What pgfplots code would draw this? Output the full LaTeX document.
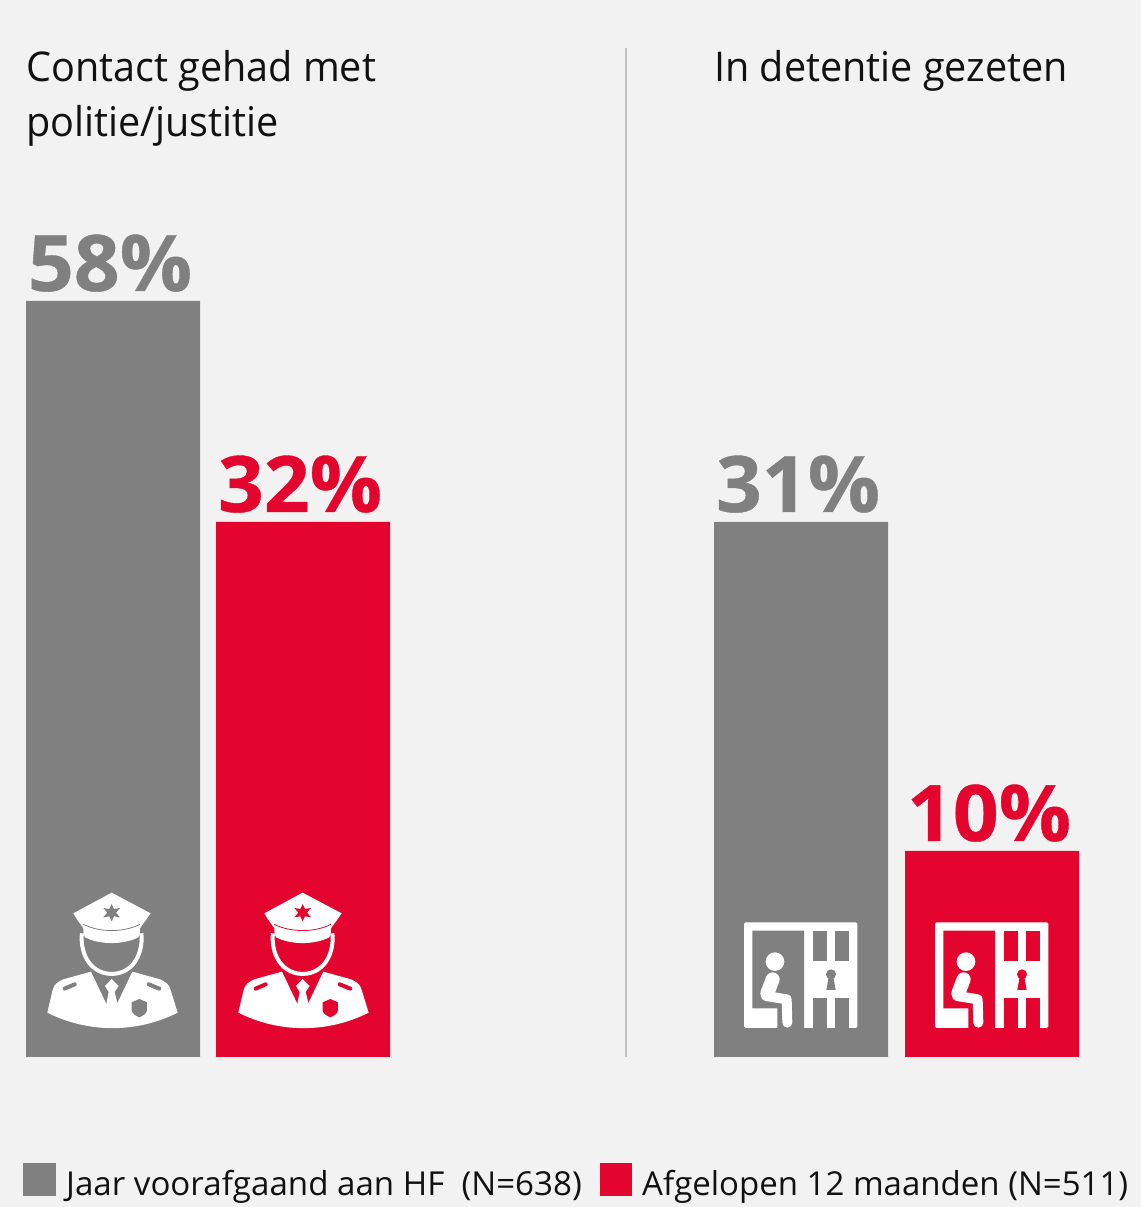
\documentclass[border=0pt]{standalone}
\usepackage{fontspec}
\usepackage{pgfplots}
\usepackage{pgfplotstable}
\pgfplotsset{compat=1.18}
\setmainfont{Open Sans}
\newfontfamily\titelfont[FakeStretch=0.965]{Open Sans}
\newfontfamily\legfont[FakeStretch=1.003]{Open Sans}
\newfontfamily\getalfont[FakeStretch=1.03,FakeBold=0.5]{Open Sans Bold}
\definecolor{bg}{HTML}{F2F2F2}
\definecolor{grijs}{HTML}{808080}
\definecolor{rood}{HTML}{E4052E}
\definecolor{tekst}{HTML}{111111}

% bar heights are pixels as drawn in the chart (it is not to scale), the label is the value
\pgfplotstableread{
x   h   lab
113 756 58\%
801 535 31\%
}\grijsdata
\pgfplotstableread{
x   h   lab
303 535 32\%
992 206 10\%
}\rooddata

\newcommand{\police}[2]{% dx, bar colour
\begin{scope}[shift={(30+#1,880)},x=0.3333pt,y=-0.3333pt]
  \fill[white] (245,38) -- (362,100) .. controls (350,118) and (340,130) .. (330,145)
    .. controls (330,160) and (328,168) .. (325,172) .. controls (280,195) and (210,195) .. (165,172)
    .. controls (162,168) and (160,160) .. (160,145) .. controls (150,130) and (140,118) .. (130,100) -- cycle;
  \draw[#2,line width=0.8pt] (160,133) .. controls (210,158) and (280,158) .. (330,133);
  \draw[white,line width=4pt] (156,160) .. controls (150,205) and (170,280) .. (245,282) .. controls (320,280) and (340,205) .. (334,160);
  \fill[white] (52,398) -- (68,330) .. controls (72,312) and (85,305) .. (100,298) -- (183,275) -- (232,378)
    -- (258,378) -- (307,275) -- (390,298) .. controls (405,305) and (418,312) .. (422,330) -- (443,398)
    .. controls (320,460) and (175,460) .. (52,398) -- cycle;
  \fill[white] (245,297) -- (266,318) -- (254,336) -- (264,376) -- (245,392) -- (228,376) -- (236,336) -- (225,318) -- cycle;
  \draw[#2,line width=4pt,line cap=round] (104,326) -- (134,313);
  \draw[#2,line width=4pt,line cap=round] (356,313) -- (388,326);
  \fill[#2] (328,357) -- (351,367) -- (351,392) .. controls (348,402) and (338,408) .. (328,412)
    .. controls (318,408) and (308,402) .. (305,392) -- (305,367) -- cycle;
  \fill[#2] (245,72) -- (252,87) -- (270,84) -- (258,98) -- (270,112) -- (252,109) -- (245,124)
    -- (238,109) -- (220,112) -- (232,98) -- (220,84) -- (238,87) -- cycle;
\end{scope}}

\newcommand{\cel}[2]{% dx, bar colour
\begin{scope}[shift={(730+#1,910)},x=0.3333pt,y=-0.3333pt]
  \fill[white,rounded corners=1.5pt] (42,37) rectangle (382,354);
  \fill[#2] (67,62) -- (222,62) -- (222,358) -- (142,358) -- (142,295) -- (67,295) -- cycle;
  \fill[#2] (248,62) rectangle (290,152);
  \fill[#2] (316,62) rectangle (358,152);
  \fill[#2] (248,265) rectangle (290,358);
  \fill[#2] (316,265) rectangle (358,358);
  \fill[white] (135,155) circle[radius=28];
  \draw[white,line width=14pt,line cap=round,line join=round] (128,208) -- (112,250);
  \draw[white,line width=10pt,line cap=round,line join=round] (108,258) -- (170,268) -- (172,338);
  \fill[#2] (303,193) circle[radius=15];
  \fill[#2] (297,195) -- (309,195) -- (317,240) -- (289,240) -- cycle;
\end{scope}}

\begin{document}
\begin{tikzpicture}
\path[use as bounding box,fill=bg] (0,0) rectangle (1141pt,1207pt);
\begin{axis}[
    at={(0,0)},anchor=south west,
    scale only axis,width=1141pt,height=1207pt,
    xmin=0,xmax=1141,ymin=-150,ymax=1057,
    hide axis,clip=false,
    ybar,bar width=174pt,bar shift=0pt,
    point meta=explicit symbolic,
    nodes near coords,
    nodes near coords style={anchor=base,yshift=10pt,xshift=-3pt,inner sep=0pt,
        font=\fontsize{78}{78}\getalfont},
    ]
    \addplot[fill=grijs,draw=none,nodes near coords style={text=grijs}] table[x=x,y=h,meta=lab] {\grijsdata};
    \addplot[fill=rood,draw=none,nodes near coords style={text=rood}] table[x=x,y=h,meta=lab] {\rooddata};
\end{axis}
\begin{scope}[shift={(0,1207pt)},x=1pt,y=-1pt]
  \draw[black!25,line width=2pt] (626,48) -- (626,1057);
  \police{0}{grijs}
  \police{191}{rood}
  \cel{0}{grijs}
  \cel{191}{rood}
  \fill[grijs] (23,1163) rectangle (56,1196);
  \fill[rood] (600,1163) rectangle (632,1196);
  \begin{scope}[every node/.style={anchor=base west,inner sep=0pt,text=tekst}]
    \node[font=\fontsize{41}{41}\titelfont] at (26,82) {Contact gehad met};
    \node[font=\fontsize{41}{41}\titelfont] at (26,137) {politie/justitie};
    \node[font=\fontsize{41}{41}\titelfont] at (714,82) {In detentie gezeten};
    \node[font=\fontsize{33}{33}\legfont] at (66,1196) {Jaar voorafgaand aan HF\ \ (N=638)};
    \node[font=\fontsize{33}{33}\selectfont] at (642,1196) {Afgelopen 12 maanden (N=511)};
  \end{scope}
\end{scope}
\end{tikzpicture}
\end{document}
